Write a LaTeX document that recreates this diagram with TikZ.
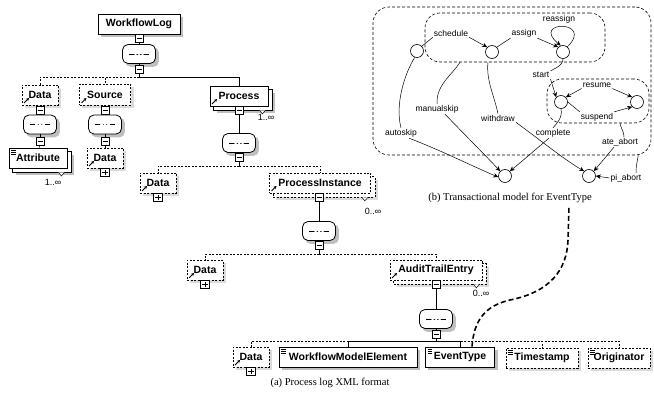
\documentclass[tikz,border=0pt]{standalone}
\usepackage{fontspec}
\setmainfont{Liberation Serif}
\setsansfont{Liberation Sans}
\usetikzlibrary{arrows.meta,calc}
\pgfdeclarelayer{background}
\pgfsetlayers{background,main}
\begin{document}
\begin{tikzpicture}[x=1pt,y=-1pt,
 every node/.style={inner sep=0pt},
 elem/.style={draw,line width=0.9pt,fill=white,minimum height=20pt,font=\sffamily\bfseries\fontsize{10.5}{12}\selectfont},
 optd/.style={dash pattern=on 2pt off 1.5pt,line width=0.7pt},
 refic/.style={path picture={\draw[solid,line width=0.9pt,-{Stealth[length=3pt,width=3.2pt]}] ([shift={(2pt,2pt)}]path picture bounding box.south west) -- ++(5pt,5pt);}},
 eqic/.style={path picture={\foreach \k in {0,1.7,3.4}{\draw[solid,line width=0.5pt] ([shift={(2pt,-2.5pt-\k pt)}]path picture bounding box.north west) -- ++(4.5pt,0pt);}}},
 seq/.style={rectangle,rounded corners=5.5pt,draw,line width=0.8pt,fill=white,minimum width=33pt,minimum height=19pt,
   path picture={\draw[solid,line width=0.7pt] ([xshift=-10pt]path picture bounding box.center) -- ([xshift=10pt]path picture bounding box.center);
     \foreach \d in {-3.5,0,3.5}{\fill ([xshift=\d pt]path picture bounding box.center) circle (1.5pt);}}},
 mbox/.style={draw,line width=0.6pt,fill=white,minimum size=8pt,
   path picture={\draw[line width=0.6pt] ([xshift=-2.5pt]path picture bounding box.center) -- ([xshift=2.5pt]path picture bounding box.center);}},
 pbox/.style={draw,line width=0.6pt,fill=white,minimum size=8.5pt,
   path picture={\draw[line width=0.6pt] ([xshift=-2.7pt]path picture bounding box.center) -- ([xshift=2.7pt]path picture bounding box.center);
     \draw[line width=0.6pt] ([yshift=-2.7pt]path picture bounding box.center) -- ([yshift=2.7pt]path picture bounding box.center);}},
 conn/.style={line width=0.7pt},
 mult/.style={font=\sffamily\fontsize{9}{10}\selectfont},
 notch/.style={line width=0.5pt},
 dshadow/.style={fill=gray!50},
 lshadow/.style={fill=gray!28},
 rbox/.style={draw,dash pattern=on 3pt off 2pt,line width=0.6pt},
 stt/.style={circle,draw,line width=0.6pt,minimum size=13pt},
 lbl/.style={font=\sffamily\fontsize{8.5}{10}\selectfont,inner sep=1pt},
 tl/.style={line width=0.5pt},
 ta/.style={tl,-{Stealth[length=5pt,width=4.5pt]}},
 captxt/.style={font=\fontsize{10.5}{12}\selectfont},
 lnk/.style={line width=1.6pt,dash pattern=on 5pt off 3pt}
]
\useasboundingbox (0,0) rectangle (654,401);

% ---------- (a) XML schema tree ----------
\node[elem,minimum width=82pt] (wl) at (139,24) {WorkflowLog};
\node[mbox] (wlm1) at (139,38.5) {};
\node[seq] (wlo) at (139,54) {};
\node[mbox] (wlm2) at (139,69) {};
\coordinate (t1) at (139,77);

\node[elem,optd,refic,minimum width=36pt] (d1) at (40,95) {Data};
\node[mbox] (d1m1) at (40,110) {};
\node[seq] (d1o) at (40,124.5) {};
\node[mbox] (d1m2) at (40,141) {};
\node[elem,eqic,minimum width=58pt] (attr) at (38,158) {Attribute};

\node[elem,optd,refic,minimum width=51pt,minimum height=21pt] (src) at (105,94.5) {Source};
\node[mbox] (srcm1) at (105,110) {};
\node[seq] (srco) at (105,124.5) {};
\node[mbox] (srcm2) at (105,141) {};
\node[elem,optd,refic,minimum width=36pt] (d2) at (105,158) {Data};
\node[pbox] (d2p) at (105,172.5) {};

\node[elem,refic,minimum width=58pt] (proc) at (239,96) {Process};
\node[mbox] (procm1) at (239,110.5) {};
\node[seq] (proco) at (239,143) {};
\node[mbox] (procm2) at (239,157.5) {};
\coordinate (t2) at (239,166);

\node[elem,optd,refic,minimum width=36pt] (d3) at (158,183) {Data};
\node[pbox] (d3p) at (158,197.5) {};
\node[elem,optd,refic,minimum width=101pt] (pi) at (320,183) {ProcessInstance};
\node[mbox] (pim1) at (319,197.5) {};
\node[seq] (pio) at (319,231) {};
\node[mbox] (pim2) at (319,245) {};
\coordinate (t3) at (319,254);

\node[elem,optd,refic,minimum width=36pt] (d4) at (205,270) {Data};
\node[pbox] (d4p) at (205,284.5) {};
\node[elem,optd,refic,minimum width=92pt] (ate) at (436,270) {AuditTrailEntry};
\node[mbox] (atem1) at (436,284.5) {};
\node[seq] (ateo) at (436,319) {};
\node[mbox] (atem2) at (436,334) {};
\coordinate (t4) at (436,341);

\node[elem,optd,refic,minimum width=36pt] (d5) at (251,357) {Data};
\node[pbox] (d5p) at (251,371.5) {};
\node[elem,eqic,minimum width=138pt] (wme) at (348,357) {WorkflowModelElement};
\node[elem,eqic,minimum width=69pt] (et) at (460,357) {EventType};
\node[elem,optd,eqic,minimum width=72pt] (ts) at (542,358) {Timestamp};
\node[elem,optd,eqic,minimum width=62pt] (orig) at (619,358) {Originator};

% shadows and stacked copies (behind everything)
\begin{pgfonlayer}{background}
\foreach \n in {wl,wme,et}{
  \fill[dshadow] ([shift={(3,3)}]\n.north west) rectangle ([shift={(3,3)}]\n.south east);}
\foreach \n in {d1,src,d2,d3,d4,d5,ts,orig}{
  \fill[lshadow] ([shift={(3,3)}]\n.north west) rectangle ([shift={(3,3)}]\n.south east);}
\foreach \n in {wlo,d1o,srco,proco,pio,ateo}{
  \fill[dshadow,rounded corners=5.5pt] ([shift={(3,3)}]\n.north west) rectangle ([shift={(3,3)}]\n.south east);}
\foreach \n in {attr,proc}{
  \fill[dshadow] ([shift={(7,7)}]\n.north west) rectangle ([shift={(7,7)}]\n.south east);
  \draw[line width=0.9pt,fill=white] ([shift={(4,4)}]\n.north west) rectangle ([shift={(4,4)}]\n.south east);}
\foreach \n in {pi,ate}{
  \fill[lshadow] ([shift={(7,7)}]\n.north west) rectangle ([shift={(7,7)}]\n.south east);
  \draw[optd,fill=white] ([shift={(4,4)}]\n.north west) rectangle ([shift={(4,4)}]\n.south east);}
\end{pgfonlayer}

% multiplicities
\node[mult] (mu1) at (53,182) {1..∞};
\node[mult] (mu2) at (266,117) {1..∞};
\node[mult] (mu3) at (373,211) {0..∞};
\node[mult] (mu4) at (481,293) {0..∞};
\foreach \n in {attr,proc,pi,ate}{
  \draw[notch,fill=white] ([shift={(-9,4)}]\n.south east) -- ++(3,3.5) -- ++(3,-3.5);
}

% tree connectors
\foreach \a/\b in {wl/wlm1,wlm1/wlo,wlo/wlm2,wlm2/t1,
                   d1/d1m1,d1m1/d1o,d1o/d1m2,d1m2/attr,
                   src/srcm1,srcm1/srco,srco/srcm2,srcm2/d2,
                   proc/procm1,procm1/proco,proco/procm2,procm2/t2,
                   pi/pim1,pim1/pio,pio/pim2,pim2/t3,
                   ate/atem1,atem1/ateo,ateo/atem2,atem2/t4}{
  \draw[conn] (\a) -- (\b);
}
\draw[conn,optd] (t1) -| (d1.north);
\draw[conn,optd] (t1) -| (src.north);
\draw[conn] (t1) -| (proc.north);
\draw[conn,optd] (t2) -| (d3.north);
\draw[conn,optd] (t2) -| (pi.north);
\draw[conn,optd] (t3) -| (d4.north);
\draw[conn,optd] (t3) -| (ate.north);
\draw[conn,optd] (t4) -| (d5.north);
\draw[conn,optd] (t4) -| (ts.north);
\draw[conn,optd] (t4) -| (orig.north);
\draw[conn] (t4) -| (wme.north);
\draw[conn] (t4) -| (et.north);

\node[captxt] (capa) at (330,383) {(a) Process log XML format};

% ---------- (b) transactional model ----------
\node[rbox,minimum width=278pt,minimum height=148pt,rounded corners=16pt] (outer) at (512,81) {};
\node[rbox,minimum width=180pt,minimum height=49pt,rounded corners=15pt] (box1) at (515,37.5) {};
\node[rbox,minimum width=102pt,minimum height=44pt,rounded corners=15pt] (box2) at (598,101) {};

\node[stt] (c1) at (417,51) {};
\node[stt] (c2) at (492,52) {};
\node[stt] (c3) at (563,52) {};
\node[stt] (c4) at (561,102) {};
\node[stt] (c5) at (637,102) {};
\node[stt] (cA) at (505,176) {};
\node[stt] (cB) at (589,176) {};

\node[lbl] (sch) at (451,33) {schedule};
\node[lbl] (asg) at (524,33) {assign};
\node[lbl] (rea) at (559,19) {reassign};
\node[lbl] (stl) at (541,75) {start};
\node[lbl] (res) at (597,85) {resume};
\node[lbl] (sus) at (597,117) {suspend};
\node[lbl] (ms) at (437,109) {manualskip};
\node[lbl] (wd) at (498,118) {withdraw};
\node[lbl] (as) at (401,133) {autoskip};
\node[lbl] (cmp) at (553,133) {complete};
\node[lbl] (aa) at (620,142) {ate\_abort};
\node[lbl] (pa) at (626,178) {pi\_abort};
\node[captxt] (capb) at (510,198) {(b) Transactional model for EventType};

\coordinate (msS) at ([xshift=-55pt]box1.south);
\coordinate (wdS) at ([xshift=-27pt]box1.south);
\coordinate (aaS) at ([xshift=22pt]box2.south);
\coordinate (paS) at ([xshift=-13pt]outer.south east);

\draw[tl] (c1.north east) -- (sch.south west);
\draw[ta] (sch.south east) -- (c2.north west);
\draw[tl] (c2.north east) -- (asg.south west);
\draw[ta] (asg.south east) -- (c3.north west);
\draw[ta] (c3.50) .. controls (595,20) and (530,20) .. (c3.110);
\draw[tl] (c3.south) .. controls (563,66) and (555,68) .. (stl.north east);
\draw[ta] (stl.south east) -- (c4.north west);
\draw[ta] (res.south west) -- (c4.north east);
\draw[ta] (res.south east) -- (c5.north west);
\draw[tl] (c4.east) -- (sus.north west);
\draw[ta] (sus.north east) -- (c5.south west);
\draw[tl] (c4.south) .. controls (563,118) and (556,124) .. (cmp.north);
\draw[ta] ([xshift=-4pt]cmp.south) .. controls (535,150) and (520,163) .. (cA.north east);
\draw[tl] (wdS) .. controls (486,80) and (494,95) .. (wd.north);
\draw[ta] (wd.south east) .. controls (540,140) and (565,160) .. (cB.north west);
\draw[tl] (msS) .. controls (452,75) and (436,85) .. (ms.north);
\draw[ta] ([xshift=8pt]ms.south) .. controls (465,135) and (485,155) .. (cA.north west);
\draw[tl] (c1.250) .. controls (404,75) and (395,105) .. (as.north);
\draw[ta] ([xshift=8pt]as.south) .. controls (440,150) and (470,165) .. (cA.190);
\draw[tl] (aaS) to[out=-80,in=90] ([xshift=4pt]aa.north);
\draw[ta] ([xshift=-6pt]aa.south) -- (cB.north east);
\draw[tl] (paS) to[out=-100,in=90] ([xshift=10pt]pa.north);
\draw[ta] (pa.west) -- (cB.east);

% link between EventType and the transactional model
\coordinate (lk) at (569,206);
\draw[lnk] ([xshift=12pt]et.north) .. controls (474,320) and (485,306) .. (510,300)
  .. controls (550,292) and (567,270) .. (568,240) -- (lk);
\end{tikzpicture}
\end{document}
